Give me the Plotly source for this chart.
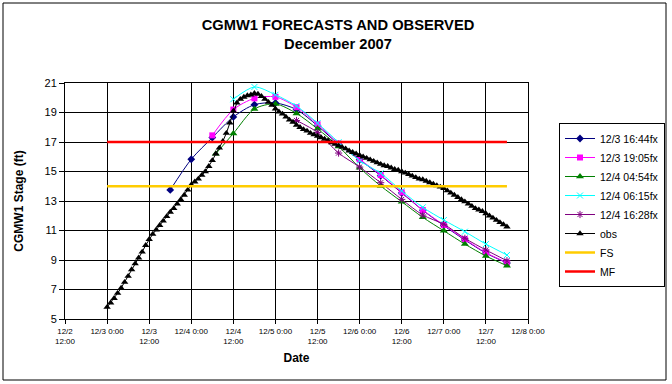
import plotly.graph_objects as go
import pandas as pd

# ---------------- data ----------------
obs_start = "2007-12-03 00:00"
obs_values = [
    5.8, 6.1, 6.4, 6.75, 7.1, 7.5, 7.9, 8.35, 8.75, 9.15, 9.55, 10.0, 10.4,
    10.75, 11.05, 11.35, 11.65, 11.95, 12.25, 12.5, 12.8, 13.1, 13.4, 13.75, 14.1,
    14.3, 14.5, 14.75, 15.0, 15.35, 15.75, 16.2, 16.6, 17.05, 17.6, 18.3, 19.1,
    19.65, 19.9, 20.05, 20.15, 20.2, 20.3, 20.25, 20.1, 19.9, 19.7, 19.5, 19.25,
    19.05, 18.9, 18.7, 18.5, 18.35, 18.15, 18.0, 17.85, 17.75, 17.6, 17.5, 17.4,
    17.3, 17.2, 17.1, 16.95, 16.85, 16.75, 16.65, 16.55, 16.4, 16.3, 16.2, 16.1,
    16.0, 15.9, 15.8, 15.7, 15.6, 15.5, 15.4, 15.35, 15.25, 15.15, 15.1, 15.0,
    14.9, 14.8, 14.7, 14.6, 14.5, 14.45, 14.35, 14.25, 14.15, 14.05, 13.95, 13.85,
    13.7, 13.55, 13.4, 13.25, 13.1, 12.95, 12.8, 12.65, 12.5, 12.4, 12.3, 12.15,
    12.0, 11.85, 11.7, 11.55, 11.4, 11.25,
]
obs_times = pd.date_range(obs_start, periods=len(obs_values), freq="h")

fx1_name = "12/3 16:44fx"
fx1_times = pd.date_range("2007-12-03 18:00", "2007-12-07 18:00", freq="6h")
fx1_values = [13.75, 15.83, 17.3, 18.7, 19.53, 19.65, 19.2, 18.1, 16.85, 15.8,
              14.72, 13.55, 12.37, 11.33, 10.36, 9.47, 8.8]

fx2_name = "12/3 19:05fx"
fx2_times = pd.date_range("2007-12-04 06:00", "2007-12-07 18:00", freq="6h")
fx2_values = [17.45, 19.2, 19.96, 20.06, 19.36, 18.2, 16.9, 15.83, 14.76, 13.59,
              12.39, 11.37, 10.4, 9.5, 8.82]

fx3_name = "12/4 04:54fx"
fx3_times = [pd.Timestamp("2007-12-04 07:00")] + list(
    pd.date_range("2007-12-04 12:00", "2007-12-07 18:00", freq="6h"))
fx3_values = [16.2, 17.58, 19.24, 19.58, 18.94, 17.89, 16.7, 15.25, 14.02, 12.95,
              11.89, 10.98, 10.08, 9.27, 8.61]

fx4_name = "12/4 06:15fx"
fx4_times = pd.date_range("2007-12-04 12:00", "2007-12-07 18:00", freq="6h")
fx4_values = [19.9, 20.73, 20.2, 19.44, 18.28, 16.98, 15.73, 14.88, 13.68, 12.57,
              11.71, 10.92, 10.08, 9.34]

fx5_name = "12/4 16:28fx"
fx5_times = pd.date_range("2007-12-05 06:00", "2007-12-07 18:00", freq="6h")
fx5_values = [18.46, 17.65, 16.25, 15.3, 14.24, 13.11, 12.05, 11.42, 10.47, 9.68, 8.95]

fs_level = 14
mf_level = 17

tick_times = pd.date_range("2007-12-02 12:00", "2007-12-08 00:00", freq="12h")
tick_labels = ["12/2<br>12:00", "12/3 0:00", "12/3<br>12:00", "12/4 0:00",
               "12/4<br>12:00", "12/5 0:00", "12/5<br>12:00", "12/6 0:00",
               "12/6<br>12:00", "12/7 0:00", "12/7<br>12:00", "12/8 0:00"]

# ---------------- figure ----------------
FONT = "Liberation Sans, Arial, sans-serif"
fig = go.Figure()

def fx_trace(name, t, v, color, symbol, size=6, open_line=False):
    marker = dict(color=color, symbol=symbol, size=size)
    if open_line:
        marker["line"] = dict(color=color, width=1)
    return go.Scatter(x=t, y=v, name=name, mode="lines+markers",
                      line=dict(color=color, width=1, shape="spline", smoothing=0.8),
                      marker=marker)

fig.add_trace(fx_trace(fx1_name, fx1_times, fx1_values, "#000080", "diamond", 6))
fig.add_trace(fx_trace(fx2_name, fx2_times, fx2_values, "#FF00FF", "square", 6))
fig.add_trace(fx_trace(fx3_name, fx3_times, fx3_values, "#008000", "triangle-up", 7))
fig.add_trace(fx_trace(fx4_name, fx4_times, fx4_values, "#00FFFF", "x-thin", 6, True))
fig.add_trace(fx_trace(fx5_name, fx5_times, fx5_values, "#800080", "asterisk", 6, True))
fig.add_trace(go.Scatter(x=obs_times, y=obs_values, name="obs", mode="lines+markers",
                         line=dict(color="black", width=1),
                         marker=dict(color="black", symbol="triangle-up", size=6.5)))
fig.add_trace(go.Scatter(x=[obs_times[0], obs_times[-1]], y=[fs_level, fs_level],
                         name="FS", mode="lines", line=dict(color="#FFCC00", width=2.5)))
fig.add_trace(go.Scatter(x=[obs_times[0], obs_times[-1]], y=[mf_level, mf_level],
                         name="MF", mode="lines", line=dict(color="#FF0000", width=2.5)))

L, R, T, B = 65, 528, 83, 319
W, H = 672, 384
pw, ph = R - L, B - T

def px(x):
    return (x - L) / pw

def py(y):
    return (B - y) / ph

fig.update_layout(
    width=W, height=H,
    margin=dict(l=L, r=W - R, t=T, b=H - B, pad=0, autoexpand=False),
    paper_bgcolor="white", plot_bgcolor="white",
    font=dict(family=FONT, color="black"),
    title=dict(text="<b>CGMW1 FORECASTS AND OBSERVED</b><br><b>December 2007</b>",
               x=0.503, xref="container", xanchor="center",
               y=1 - 30 / H, yref="container", yanchor="top",
               font=dict(size=14.7, family=FONT, color="black")),
    showlegend=True,
    legend=dict(x=px(559), y=py(123), xanchor="left", yanchor="top",
                bgcolor="white", bordercolor="black", borderwidth=1,
                font=dict(size=10.5, family=FONT, color="black"),
                tracegroupgap=0, itemwidth=30),
    shapes=[dict(type="rect", xref="paper", yref="paper",
                 x0=px(3), x1=px(666), y0=py(380), y1=py(3),
                 line=dict(color="black", width=1), fillcolor="rgba(0,0,0,0)")],
)

fig.update_xaxes(
    type="date", automargin=False,
    range=[tick_times[0], tick_times[-1]],
    tickmode="array", tickvals=tick_times, ticktext=tick_labels,
    tickfont=dict(size=8, family=FONT, color="black"),
    ticks="outside", ticklen=4, tickcolor="black",
    showgrid=True, gridcolor="black", gridwidth=1,
    showline=True, linecolor="black", linewidth=1, mirror=True,
    zeroline=False,
    title=dict(text="<b>Date</b>", font=dict(size=12, family=FONT, color="black"), standoff=8),
)
fig.update_yaxes(
    automargin=False,
    range=[5, 21], tickmode="linear", tick0=5, dtick=2,
    tickfont=dict(size=11, family=FONT, color="black"),
    ticks="outside", ticklen=5, tickcolor="black",
    showgrid=True, gridcolor="black", gridwidth=1,
    showline=True, linecolor="black", linewidth=1, mirror=True,
    zeroline=False,
    title=dict(text="<b>CGMW1 Stage (ft)</b>", font=dict(size=12, family=FONT, color="black"), standoff=18),
)

fig.write_html("out.html", config={"displayModeBar": False},
               post_script="document.body.style.margin='0';document.body.style.padding='0';")
